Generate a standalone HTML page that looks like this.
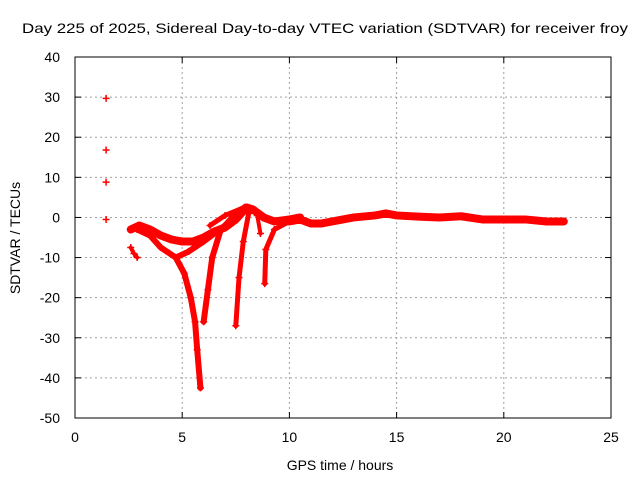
<!DOCTYPE html>
<html><head><meta charset="utf-8"><style>
body{margin:0;background:#fff;}
svg text{font-family:"Liberation Sans",sans-serif;font-size:14px;fill:#000;}
</style></head><body>
<svg id="chart" width="640" height="480" xmlns="http://www.w3.org/2000/svg"></svg>
<script>
const xTicks=[0,5,10,15,20,25];
const yTicks=[40,30,20,10,0,-10,-20,-30,-40,-50];
const isolatedX=[1.45,1.45,1.45,1.45];
const isolatedY=[29.7,16.8,8.8,-0.5];
const trackEarly=[[2.6,-7.5],[2.75,-9],[2.9,-10]];
const trackUpper=[[2.6,-3],[3,-2],[3.5,-3],[4,-4.5],[4.5,-5.5],[5,-6],[5.5,-6],[6,-5],[6.5,-3.5],[7,-2.5],[7.5,-0.5],[8,2.5],[8.3,2],[8.8,0],[9.3,-1],[10,-0.5],[10.5,0]];
const trackLower=[[2.9,-3],[3.5,-4.5],[4,-7.5],[4.7,-10],[5.3,-8.5],[6,-6],[6.5,-4],[7,-2],[7.5,1],[7.9,2.5]];
const trackBranch=[[6.3,-2],[7,0.5],[7.9,2.5]];
const dip1=[[4.7,-10],[5.1,-14],[5.4,-20],[5.6,-26],[5.7,-33],[5.85,-42.5]];
const dip2=[[7.5,0.5],[6.8,-3],[6.4,-10],[6.2,-18],[6.0,-26]];
const dip3=[[8.1,1],[7.85,-6],[7.65,-15],[7.5,-27]];
const dip4=[[8.5,0.5],[8.65,-4]];
const dip5=[[10,-1],[9.3,-3],[8.9,-8],[8.85,-16.5]];
const trackLate=[[10,-1],[10.5,-0.5],[11,-1.5],[11.5,-1.5],[12,-1],[13,0],[14,0.5],[14.5,1],[15,0.5],[16,0.2],[17,0],[18,0.3],[19,-0.5],[20,-0.5],[21,-0.5],[22,-1],[22.8,-1]];
const NS="http://www.w3.org/2000/svg";
const svg=document.getElementById('chart');
const L=75,R=611,T=57,B=418;
const sx=v=>L+(v-0)/25*(R-L);
const sy=v=>T+(40-v)/90*(B-T);
function mk(tag,attrs,parent){const e=document.createElementNS(NS,tag);for(const k in attrs)e.setAttribute(k,attrs[k]);(parent||svg).appendChild(e);return e;}
const grid=mk('g',{});


xTicks.forEach(t=>{
 if(t>0&&t<25){const g=mk('line',{x1:sx(t),x2:sx(t),y1:T,y2:B,stroke:'#a0a0a0','stroke-dasharray':'2,3'},grid);}
 const tl=mk('text',{x:sx(t),y:B+24,'text-anchor':'middle'});tl.textContent=t;
 
 
 mk('line',{x1:sx(t),x2:sx(t),y1:B,y2:B-6,stroke:'#000'});mk('line',{x1:sx(t),x2:sx(t),y1:T,y2:T+6,stroke:'#000'});
});
yTicks.forEach(t=>{
 if(t<40&&t>-50){const g=mk('line',{x1:L,x2:R,y1:sy(t),y2:sy(t),stroke:'#a0a0a0','stroke-dasharray':'2,3'},grid);}
 const tl=mk('text',{x:L-15,y:sy(t)+5,'text-anchor':'end'});tl.textContent=t;
 
 
 mk('line',{x1:L,x2:L+6,y1:sy(t),y2:sy(t),stroke:'#000'});mk('line',{x1:R,x2:R-6,y1:sy(t),y2:sy(t),stroke:'#000'});
});
const frame=mk('rect',{x:L,y:T,width:R-L,height:B-T,fill:'none',stroke:'#000'});


function plus(x,y,p){mk('path',{d:`M${sx(x)-3.5},${sy(y)}h7M${sx(x)},${sy(y)-3.5}v7`,stroke:'#f00','stroke-width':1.5},p);}
function track(arr,w,name){
 const g=mk('g',{});
 
 
 mk('polyline',{points:arr.map(p=>sx(p[0])+','+sy(p[1])).join(' '),fill:'none',stroke:'#f00','stroke-width':w,'stroke-linejoin':'round','stroke-linecap':'round'},g);
 arr.forEach(p=>plus(p[0],p[1],g));
}
track(trackEarly,4,'track-early');
track(trackUpper,8,'track-upper');
track(trackLower,6,'track-lower');
track(trackBranch,5,'track-branch');
track(dip1,6,'dip-1');
track(dip2,6,'dip-2');
track(dip3,5,'dip-3');
track(dip4,4,'dip-4');
track(dip5,5,'dip-5');
track(trackLate,8,'track-late');
const iso=mk('g',{});


isolatedX.forEach((x,i)=>plus(x,isolatedY[i],iso));
const title=mk('text',{x:22,y:33,'font-size':'15','textLength':'606','lengthAdjust':'spacingAndGlyphs'});title.textContent='Day 225 of 2025, Sidereal Day-to-day VTEC variation (SDTVAR) for receiver froy';


const xt=mk('text',{x:340,y:470,'text-anchor':'middle'});xt.textContent='GPS time / hours';


const yt=mk('text',{x:0,y:0,'text-anchor':'middle',transform:'translate(20,238) rotate(-90)'});yt.textContent='SDTVAR / TECUs';


</script>
</body></html>
